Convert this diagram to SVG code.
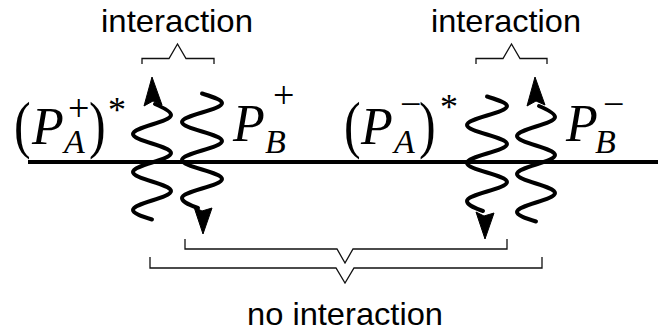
<svg xmlns="http://www.w3.org/2000/svg" width="669" height="335" viewBox="0 0 669 335">
<defs>
<style>
.wave{fill:none;stroke:#000;stroke-width:4;stroke-linecap:round;stroke-linejoin:round}
.head{fill:#000;stroke:#000;stroke-width:1;stroke-linejoin:round}
.brk{fill:none;stroke:#111;stroke-width:1.3}
.axis{stroke:#000;stroke-width:3.8}
.lbl{font-family:"Liberation Sans",Arial,sans-serif;font-size:32px;fill:#000}
.m{font-family:"Liberation Serif","Times New Roman",serif;fill:#000}
.it{font-style:italic}
.par{font-size:50px}
.big{font-size:52px}
.sup{font-size:38px}
.sub{font-size:34px}
.ast{font-size:36px}
</style>
</defs>
<g id="axis"><line class="axis" x1="28" y1="162" x2="658" y2="162"/></g>
<g id="connectors">
<path id="waveA" class="wave" d="M152,219.5 C142,216.3 133,213.4 133,210 C133,203.1 171,197.9 171,191 C171,184.1 133,178.9 133,172 C133,165.1 171,159.9 171,153 C171,146.1 133,140.9 133,134 C133,127.1 171,121.9 171,115 C171,111.6 163,107.5 155,104"/>
<polygon class="head" points="152,77 144,106 153,101 162,105"/>
<path id="waveB" class="wave" d="M202,93.5 C212,96.7 222,99.6 222,103 C222,109.9 182,115.1 182,122 C182,128.9 222,134.1 222,141 C222,147.9 182,153.1 182,160 C182,166.9 222,172.1 222,179 C222,185.9 182,191.1 182,198 C182,201.4 190,205.5 198,208"/>
<polygon class="head" points="203,234 194,207 202,211 212,208"/>
<path id="waveC" class="wave" d="M487,96.5 C497,99.7 507,102.6 507,106 C507,112.9 467,118.1 467,125 C467,131.9 507,137.1 507,144 C507,150.9 467,156.1 467,163 C467,169.9 507,175.1 507,182 C507,188.9 467,194.1 467,201 C467,204.4 475,208.5 483,211"/>
<polygon class="head" points="485,239 476,212 484,216 494,213"/>
<path id="waveD" class="wave" d="M536,221.5 C526,218.3 517,215.4 517,212 C517,205.1 555,199.9 555,193 C555,186.1 517,180.9 517,174 C517,167.1 555,161.9 555,155 C555,148.1 517,142.9 517,136 C517,129.1 555,123.9 555,117 C555,113.6 547,109.5 539,106"/>
<polygon class="head" points="535,77 527,106 536,101 545,105"/>
</g>
<g id="bracket-top-left"><path class="brk" d="M142,64 V58.5 H169 L177.5,44 L186,58.5 H214 V64"/></g>
<g id="bracket-top-right"><path class="brk" d="M476,64 V58.5 H503 L511.5,44 L520,58.5 H547 V64"/></g>
<g id="bracket-bottom-inner"><path class="brk" d="M185,239 V249 H337 L345,263 L353,249 H507 V239"/></g>
<g id="bracket-bottom-outer"><path class="brk" d="M150,257 V268 H336 L345,283 L354,268 H542 V257"/></g>
<g id="label-interaction-left"><text class="lbl" x="177" y="32" text-anchor="middle" textLength="152" lengthAdjust="spacingAndGlyphs">interaction</text></g>
<g id="label-interaction-right"><text class="lbl" x="506" y="32" text-anchor="middle" textLength="150" lengthAdjust="spacingAndGlyphs">interaction</text></g>
<g id="label-no-interaction"><text class="lbl" x="345" y="325" text-anchor="middle" textLength="196" lengthAdjust="spacingAndGlyphs">no interaction</text></g>
<g id="node-PA-plus">
<text class="m par" transform="translate(14,146) scale(1,1.25)">(</text>
<text class="m it big" x="32" y="144">P</text>
<text class="m sup" x="68" y="121">+</text>
<text class="m it sub" x="64" y="153">A</text>
<text class="m par" transform="translate(89,146) scale(1,1.25)">)</text>
<text class="m ast" x="108" y="122">*</text>
</g>
<g id="node-PB-plus">
<text class="m it big" x="233" y="141">P</text>
<text class="m sup" x="273" y="108">+</text>
<text class="m it sub" x="265" y="153">B</text>
</g>
<g id="node-PA-minus">
<text class="m par" transform="translate(344,146) scale(1,1.25)">(</text>
<text class="m it big" x="361" y="144">P</text>
<text class="m sup" x="400" y="117">−</text>
<text class="m it sub" x="394" y="153">A</text>
<text class="m par" transform="translate(419,146) scale(1,1.25)">)</text>
<text class="m ast" x="440" y="119">*</text>
</g>
<g id="node-PB-minus">
<text class="m it big" x="566" y="141">P</text>
<text class="m sup" x="603" y="117">−</text>
<text class="m it sub" x="595" y="153">B</text>
</g>
</svg>
